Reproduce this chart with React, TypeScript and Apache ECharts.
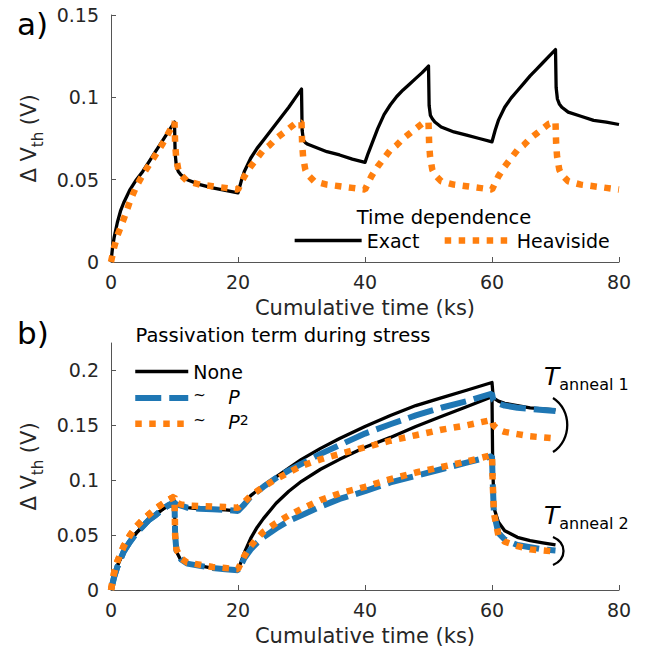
import React, { useEffect, useRef } from "react";
import * as echarts from "echarts";

// ---------- Panel a) data ----------
const tExact = [0,0.25,0.5,1,1.5,2,3,4,5,6,7,8,9,10,10.1,10.3,10.6,11,12,14,16,18,20,20.5,21,22,23,24,25,26,27,28,29,30,30.1,30.3,30.6,31,32,34,36,38,40,40.5,41,42,43,44,45,46,47,48,49,50,50.1,50.3,50.6,51,52,54,56,58,60,60.5,61,62,63,64,65,66,67,68,69,70,70.1,70.3,70.6,71,72,74,76,78,80];
const vExact = [0,0.009,0.015,0.024,0.031,0.036,0.044,0.05,0.055,0.061,0.067,0.073,0.079,0.085,0.066,0.058,0.055,0.053,0.05,0.047,0.045,0.0435,0.042,0.049,0.055,0.063,0.069,0.074,0.079,0.084,0.089,0.094,0.0995,0.105,0.08,0.074,0.0725,0.0715,0.07,0.067,0.065,0.0625,0.0605,0.066,0.071,0.081,0.0895,0.0955,0.1005,0.1045,0.108,0.1115,0.115,0.119,0.095,0.089,0.087,0.085,0.082,0.079,0.077,0.075,0.073,0.08,0.086,0.094,0.0995,0.104,0.1085,0.113,0.117,0.121,0.125,0.129,0.106,0.099,0.096,0.094,0.091,0.0885,0.086,0.085,0.0835];

const tHeav = [0,0.5,1,2,3,4,5,6,7,8,9,10,10.1,10.25,10.6,11,12,14,16,18,20,21,22,23,24,25,26,27,28,29,30,30.1,30.25,30.6,31,32,34,36,38,40,41,42,43,44,45,46,47,48,49,50,50.1,50.25,50.6,51,52,54,56,58,60,61,62,63,64,65,66,67,68,69,70,70.1,70.25,70.6,71,72,74,76,78,80];
const vHeav = [0,0.009,0.016,0.026,0.037,0.046,0.053,0.059,0.065,0.071,0.078,0.085,0.072,0.064,0.056,0.053,0.049,0.047,0.046,0.045,0.044,0.052,0.058,0.063,0.068,0.071,0.075,0.078,0.081,0.084,0.085,0.072,0.064,0.056,0.053,0.049,0.047,0.046,0.045,0.044,0.052,0.058,0.063,0.068,0.071,0.075,0.078,0.081,0.084,0.085,0.072,0.064,0.056,0.053,0.049,0.047,0.046,0.045,0.044,0.052,0.058,0.063,0.068,0.071,0.075,0.078,0.081,0.084,0.085,0.072,0.064,0.056,0.053,0.049,0.047,0.046,0.045,0.044];

// ---------- Panel b) data ----------
const tUp = [0,0.5,1,2,3,4,5,6,7,8,9,10,10.2,11,12,14,16,18,20,21,22,24,26,28,30,33,36,40,44,48,52,56,60,60.2,61,62,64,66,68,70];
const noneUp = [0,0.013,0.022,0.035,0.045,0.052,0.058,0.064,0.068,0.073,0.077,0.081,0.078,0.076,0.075,0.074,0.0735,0.073,0.072,0.079,0.086,0.095,0.103,0.111,0.119,0.129,0.138,0.149,0.159,0.168,0.175,0.182,0.189,0.175,0.172,0.17,0.168,0.166,0.165,0.164];
const pUp = [0,0.012,0.021,0.035,0.044,0.052,0.058,0.064,0.068,0.073,0.077,0.08,0.078,0.077,0.075,0.074,0.0735,0.073,0.072,0.078,0.085,0.094,0.102,0.109,0.115,0.124,0.132,0.1425,0.151,0.159,0.166,0.172,0.179,0.173,0.17,0.168,0.166,0.165,0.164,0.163];
const p2Up = [0,0.016,0.026,0.04,0.05,0.058,0.064,0.069,0.074,0.078,0.082,0.085,0.08,0.078,0.077,0.0765,0.076,0.0755,0.075,0.08,0.086,0.094,0.101,0.107,0.113,0.119,0.124,0.13,0.136,0.141,0.146,0.15,0.155,0.15,0.146,0.144,0.142,0.14,0.139,0.138];

const tLow = [0,0.5,1,2,3,4,5,6,7,8,9,10,10.1,10.3,11,12,14,16,18,20,20.5,21,22,23,24,26,28,30,33,36,40,44,48,52,56,60,60.1,60.3,61,62,64,66,68,70];
const noneLow = [0,0.013,0.022,0.035,0.045,0.052,0.058,0.064,0.068,0.073,0.077,0.081,0.045,0.035,0.027,0.024,0.022,0.02,0.019,0.018,0.026,0.034,0.047,0.057,0.065,0.079,0.09,0.099,0.11,0.119,0.13,0.139,0.149,0.158,0.167,0.176,0.12,0.075,0.062,0.054,0.048,0.045,0.043,0.041];
const pLow = [0,0.012,0.021,0.035,0.044,0.052,0.058,0.064,0.068,0.073,0.077,0.08,0.05,0.036,0.028,0.024,0.022,0.02,0.019,0.018,0.023,0.029,0.037,0.043,0.048,0.056,0.063,0.068,0.076,0.083,0.09,0.098,0.104,0.11,0.116,0.122,0.1,0.07,0.052,0.046,0.041,0.039,0.037,0.036];
const p2Low = [0,0.016,0.026,0.04,0.05,0.058,0.064,0.069,0.074,0.078,0.082,0.085,0.05,0.037,0.029,0.025,0.023,0.021,0.02,0.019,0.025,0.031,0.04,0.047,0.053,0.061,0.068,0.074,0.082,0.088,0.094,0.101,0.107,0.112,0.117,0.123,0.1,0.07,0.05,0.044,0.04,0.037,0.036,0.035];

const xTicks = [0, 20, 40, 60, 80];
const yTicksA = [0, 0.05, 0.1, 0.15];
const yTicksB = [0, 0.05, 0.1, 0.15, 0.2];

const FONT = "DejaVu Sans";
const BLACK = "#000000";
const BLUE = "#1f77b4";
const ORANGE = "#ff7f0e";
const AXIS = "#555555";
const LABEL = "#262626";

const zip = (t: number[], v: number[]) => t.map((x, i) => [x, v[i]]);

const solid = { color: BLACK, width: 3.3, type: "solid" as const, join: "round" as const };
const dashed = { color: BLUE, width: 6, type: [26, 8] as number[] };
const dotted = { color: ORANGE, width: 6.5, type: [6.5, 7.5] as number[] };

function lineSeries(name: string, xi: number, data: number[][], ls: any, z: number) {
  return {
    type: "line",
    name,
    xAxisIndex: xi,
    yAxisIndex: xi,
    data,
    symbol: "none",
    smooth: false,
    color: ls.color,
    lineStyle: ls,
    z,
  };
}

function xAxisCfg(gi: number) {
  return {
    type: "value",
    gridIndex: gi,
    min: 0,
    max: 80,
    interval: 20,
    name: "Cumulative time (ks)",
    nameLocation: "middle",
    nameGap: 35,
    nameTextStyle: { fontFamily: FONT, fontSize: 21, color: LABEL },
    axisLine: { show: true, lineStyle: { color: AXIS, width: 1 } },
    axisTick: { show: true, inside: true, length: 5, lineStyle: { color: AXIS }, customValues: xTicks },
    axisLabel: { fontFamily: FONT, fontSize: 19, color: LABEL, margin: 10, customValues: xTicks },
    splitLine: { show: false },
  };
}

function yAxisCfg(gi: number, max: number, ticks: number[]) {
  return {
    type: "value",
    gridIndex: gi,
    min: 0,
    max,
    name: "{m|Δ V}{sub|th}{m| (V)}",
    nameLocation: "middle",
    nameRotate: 90,
    nameGap: 62,
    nameTextStyle: {
      fontFamily: FONT,
      fontSize: 21,
      color: LABEL,
      rich: {
        m: { fontFamily: FONT, fontSize: 21, color: LABEL, lineHeight: 22, verticalAlign: "top" },
        sub: { fontFamily: FONT, fontSize: 15, color: LABEL, lineHeight: 15, verticalAlign: "top", padding: [12, 0, 0, 0] },
      },
    },
    axisLine: { show: true, lineStyle: { color: AXIS, width: 1 } },
    axisTick: { show: true, inside: true, length: 5, lineStyle: { color: AXIS }, customValues: ticks },
    axisLabel: { fontFamily: FONT, fontSize: 19, color: LABEL, margin: 12, customValues: ticks },
    splitLine: { show: false },
  };
}

export default function App() {
  const ref = useRef<HTMLDivElement>(null);
  useEffect(() => {
    if (!ref.current) return;
    const chart = echarts.init(ref.current, undefined, { renderer: "svg" });
    const option: any = {
      animation: false,
      backgroundColor: "#ffffff",
      grid: [
        { left: 111, right: 31, top: 15, bottom: 396 },
        { left: 111, right: 31, top: 343, bottom: 68 },
      ],
      xAxis: [xAxisCfg(0), xAxisCfg(1)],
      yAxis: [yAxisCfg(0, 0.15, yTicksA), yAxisCfg(1, 0.225, yTicksB)],
      legend: [
        {
          data: ["Exact", "Heaviside"],
          orient: "horizontal",
          left: 288,
          top: 226,
          itemWidth: 67,
          itemHeight: 20,
          itemGap: 22,
          selectedMode: false,
          itemStyle: { opacity: 0 },
          lineStyle: { width: "inherit" },
          textStyle: { fontFamily: FONT, fontSize: 19, color: BLACK },
        },
        {
          data: ["None", "~ P", "~ P2"],
          orient: "vertical",
          left: 127,
          top: 357,
          itemWidth: 53,
          itemHeight: 22,
          itemGap: 6,
          selectedMode: false,
          itemStyle: { opacity: 0 },
          lineStyle: { width: "inherit" },
          formatter: (name: string) => {
            if (name === "None") return "None";
            if (name === "~ P") return "{t|~}{it|P}";
            return "{t|~}{it|P}{sup|2}";
          },
          textStyle: {
            fontFamily: FONT,
            fontSize: 19,
            color: BLACK,
            rich: {
              t: { fontFamily: FONT, fontSize: 15, color: BLACK, width: 35, lineHeight: 22, verticalAlign: "top" },
              it: { fontFamily: FONT, fontSize: 19, fontStyle: "italic", color: BLACK, lineHeight: 22, verticalAlign: "top" },
              sup: { fontFamily: FONT, fontSize: 14, color: BLACK, lineHeight: 12, verticalAlign: "top" },
            },
          },
        },
      ],
      series: [
        lineSeries("Exact", 0, zip(tExact, vExact), solid, 2),
        lineSeries("Heaviside", 0, zip(tHeav, vHeav), dotted, 3),
        lineSeries("None", 1, zip(tUp, noneUp), solid, 2),
        lineSeries("None", 1, zip(tLow, noneLow), solid, 2),
        lineSeries("~ P", 1, zip(tUp, pUp), dashed, 3),
        lineSeries("~ P", 1, zip(tLow, pLow), dashed, 3),
        lineSeries("~ P2", 1, zip(tUp, p2Up), dotted, 4),
        lineSeries("~ P2", 1, zip(tLow, p2Low), dotted, 4),
      ],
      graphic: [
        { type: "text", left: 17, top: 8, style: { text: "a)", fontFamily: FONT, fontSize: 31, fill: BLACK } },
        { type: "text", left: 17, top: 317, style: { text: "b)", fontFamily: FONT, fontSize: 31, fill: BLACK } },
        { type: "text", x: 444, y: 217, style: { text: "Time dependence", fontFamily: FONT, fontSize: 19.5, fill: BLACK, align: "center", verticalAlign: "middle" } },
        { type: "text", x: 283, y: 335, style: { text: "Passivation term during stress", fontFamily: FONT, fontSize: 19.5, fill: BLACK, align: "center", verticalAlign: "middle" } },
        {
          type: "text", x: 544, y: 364,
          style: {
            text: "{T|T}{s|anneal 1}", fontFamily: FONT, fill: BLACK,
            rich: {
              T: { fontFamily: FONT, fontSize: 25, fontStyle: "italic", fill: BLACK, lineHeight: 26, verticalAlign: "top" },
              s: { fontFamily: FONT, fontSize: 16, fill: BLACK, lineHeight: 16, verticalAlign: "top", padding: [12, 0, 0, 0] },
            },
          },
        },
        {
          type: "text", x: 544, y: 503,
          style: {
            text: "{T|T}{s|anneal 2}", fontFamily: FONT, fill: BLACK,
            rich: {
              T: { fontFamily: FONT, fontSize: 25, fontStyle: "italic", fill: BLACK, lineHeight: 26, verticalAlign: "top" },
              s: { fontFamily: FONT, fontSize: 16, fill: BLACK, lineHeight: 16, verticalAlign: "top", padding: [12, 0, 0, 0] },
            },
          },
        },
        {
          type: "bezierCurve",
          shape: { x1: 553, y1: 398, cpx1: 572, cpy1: 410, cpx2: 572, cpy2: 440, x2: 553, y2: 452 },
          style: { stroke: BLACK, lineWidth: 2.3, fill: "none" },
        },
        {
          type: "bezierCurve",
          shape: { x1: 553, y1: 537, cpx1: 567, cpy1: 543, cpx2: 567, cpy2: 559, x2: 553, y2: 565 },
          style: { stroke: BLACK, lineWidth: 2.3, fill: "none" },
        },
      ],
    };
    chart.setOption(option);
    return () => chart.dispose();
  }, []);
  return (
    <div
      ref={ref}
      style={{ position: "fixed", left: 0, top: 0, width: 650, height: 658, background: "#fff" }}
    />
  );
}
